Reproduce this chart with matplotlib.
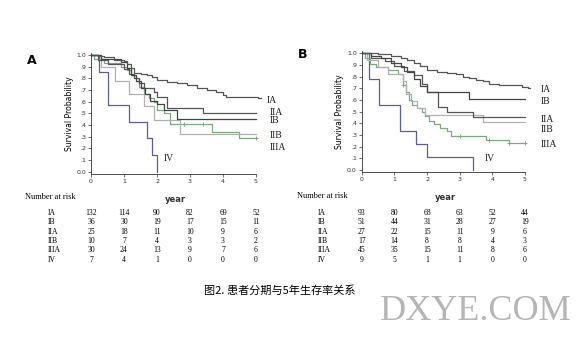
import numpy as np
import matplotlib
matplotlib.use("Agg")
import matplotlib.pyplot as plt
import matplotlib.transforms as mtransforms

plt.rcParams['font.family'] = ['DejaVu Sans']

stages = ["IA", "IB", "IIA", "IIB", "IIIA", "IV"]
years = [0, 1, 2, 3, 4, 5]

# ---- panel A survival steps (time in years, survival probability) ----
a_t = {
    "IA":   [0, 0.2, 0.4, 0.7, 1.0, 1.1, 1.2, 1.3, 1.5, 1.7, 1.85, 2.0, 2.3, 2.6, 2.9, 3.2, 3.5, 3.8, 4.0, 4.1, 5.05, 5.15],
    "IB":   [0, 0.3, 0.9, 1.1, 1.2, 1.35, 1.5, 1.65, 1.8, 2.0, 2.2, 2.6, 5.0],
    "IIA":  [0, 0.2, 0.5, 1.0, 1.15, 1.3, 1.45, 1.6, 1.9, 2.0, 2.3, 3.4, 5.0],
    "IIB":  [0, 0.3, 0.74, 1.16, 1.6, 1.9, 2.7, 5.0],
    "IIIA": [0, 0.1, 0.4, 0.9, 1.1, 1.2, 1.3, 1.45, 1.6, 1.75, 1.9, 2.0, 2.2, 2.4, 3.67, 4.48, 5.0],
    "IV":   [0, 0.25, 0.5, 1.15, 1.7, 1.85, 2.0],
}
a_s = {
    "IA":   [1.0, 0.99, 0.98, 0.96, 0.95, 0.92, 0.89, 0.85, 0.84, 0.83, 0.81, 0.79, 0.77, 0.76, 0.74, 0.72, 0.70, 0.68, 0.66, 0.64, 0.63, 0.63],
    "IB":   [1.0, 0.97, 0.94, 0.89, 0.83, 0.78, 0.72, 0.67, 0.61, 0.58, 0.53, 0.45, 0.45],
    "IIA":  [1.0, 0.96, 0.92, 0.88, 0.84, 0.80, 0.76, 0.72, 0.68, 0.64, 0.55, 0.50, 0.50],
    "IIB":  [1.0, 0.90, 0.78, 0.67, 0.56, 0.44, 0.32, 0.32],
    "IIIA": [1.0, 0.97, 0.93, 0.90, 0.87, 0.83, 0.80, 0.73, 0.67, 0.63, 0.60, 0.53, 0.50, 0.41, 0.34, 0.29, 0.29],
    "IV":   [1.0, 0.857, 0.571, 0.429, 0.286, 0.143, 0.0],
}
a_censor_t = [2.82, 3.4, 5.0]
a_censor_s = [0.41, 0.41, 0.29]

# ---- panel B survival steps ----
b_t = {
    "IA":   [0, 0.5, 0.9, 1.2, 1.4, 1.6, 1.8, 2.0, 2.3, 2.6, 2.9, 3.1, 3.3, 3.5, 3.7, 3.9, 4.2, 4.9, 5.1, 5.15],
    "IB":   [0, 0.3, 0.6, 0.9, 1.2, 1.4, 1.6, 1.8, 2.0, 3.3, 5.0],
    "IIA":  [0, 0.3, 0.7, 1.0, 1.3, 1.6, 1.85, 2.0, 2.35, 2.6, 3.4, 5.0],
    "IIB":  [0, 0.15, 0.5, 0.8, 1.25, 1.35, 1.5, 1.7, 1.95, 3.7, 5.0],
    "IIIA": [0, 0.1, 0.25, 0.45, 0.8, 1.1, 1.25, 1.35, 1.45, 1.55, 1.7, 1.85, 1.95, 2.05, 2.2, 2.4, 2.6, 2.75, 3.8, 4.5, 5.0],
    "IV":   [0, 0.22, 0.54, 1.17, 1.66, 2.01, 3.42],
}
b_s = {
    "IA":   [1.0, 0.99, 0.98, 0.96, 0.94, 0.92, 0.89, 0.86, 0.84, 0.83, 0.82, 0.80, 0.79, 0.77, 0.76, 0.74, 0.73, 0.71, 0.70, 0.70],
    "IB":   [1.0, 0.98, 0.96, 0.92, 0.88, 0.84, 0.78, 0.72, 0.67, 0.61, 0.61],
    "IIA":  [1.0, 0.96, 0.93, 0.89, 0.85, 0.81, 0.74, 0.67, 0.54, 0.50, 0.45, 0.45],
    "IIB":  [1.0, 0.94, 0.88, 0.82, 0.76, 0.65, 0.59, 0.53, 0.47, 0.41, 0.41],
    "IIIA": [1.0, 0.96, 0.91, 0.88, 0.86, 0.82, 0.73, 0.67, 0.60, 0.56, 0.53, 0.50, 0.46, 0.42, 0.39, 0.36, 0.33, 0.29, 0.26, 0.23, 0.23],
    "IV":   [1.0, 0.778, 0.556, 0.333, 0.222, 0.111, 0.0],
}
b_censor_t = [1.25, 3.0, 3.9, 4.5, 5.0]
b_censor_s = [0.73, 0.29, 0.26, 0.23, 0.23]

# ---- numbers at risk ----
a_risk = {
    "IA":   [132, 114, 90, 82, 69, 52],
    "IB":   [36, 30, 19, 17, 15, 11],
    "IIA":  [25, 18, 11, 10, 9, 6],
    "IIB":  [10, 7, 4, 3, 3, 2],
    "IIIA": [30, 24, 13, 9, 7, 6],
    "IV":   [7, 4, 1, 0, 0, 0],
}
b_risk = {
    "IA":   [93, 80, 68, 63, 52, 44],
    "IB":   [51, 44, 31, 28, 27, 19],
    "IIA":  [27, 22, 15, 11, 9, 6],
    "IIB":  [17, 14, 8, 8, 4, 3],
    "IIIA": [45, 35, 15, 11, 8, 6],
    "IV":   [9, 5, 1, 1, 0, 0],
}

colors = {"IA": "#555555", "IB": "#444444", "IIA": "#555555",
          "IIB": "#b0b0b0", "IIIA": "#7aab7a", "IV": "#5a5aa8"}

# label positions (data coords)
a_lab = {"IA": (5.32, 0.61), "IIA": (5.4, 0.51), "IB": (5.4, 0.44),
         "IIB": (5.4, 0.31), "IIIA": (5.4, 0.21), "IV": (2.2, 0.11)}
b_lab = {"IA": (5.48, 0.69), "IB": (5.48, 0.59), "IIA": (5.48, 0.43),
         "IIB": (5.48, 0.35), "IIIA": (5.48, 0.22), "IV": (3.78, 0.10)}

W, H = 582, 342
fig = plt.figure(figsize=(W / 100, H / 100), dpi=100)


def px(x, y):
    return x / W, 1 - y / H


def panel(rect, ts, ss, ct, cs, labs, risk, letter, letter_xy,
          nar_xy, year_xy, rowlab_x):
    ax = fig.add_axes(rect)
    for st in ["IV", "IIIA", "IIB", "IIA", "IB", "IA"]:
        ax.step(ts[st], ss[st], where="post", color=colors[st], lw=0.9,
                clip_on=False)
    ax.plot(ct, cs, "+", color=colors["IIIA"], ms=3, mew=0.7, clip_on=False)
    for st, (x, y) in labs.items():
        ax.text(x, y, st, family="Liberation Serif", fontsize=7,
                va="center", ha="left", color="#222222", clip_on=False)
    ax.set_xlim(0, 5.2)
    ax.set_ylim(-0.02, 1.02)
    ax.set_xticks(years)
    ax.set_yticks(np.arange(0, 1.01, 0.1))
    ax.set_yticklabels(["0.0"] + ["." + str(i) for i in range(1, 10)] + ["1.0"])
    ax.spines["top"].set_visible(False)
    ax.spines["right"].set_visible(False)
    ax.spines["bottom"].set_bounds(0, 5)
    for sp in ["left", "bottom"]:
        ax.spines[sp].set_linewidth(0.6)
        ax.spines[sp].set_color("#333333")
    ax.tick_params(labelsize=4.5, length=2, width=0.5, pad=1.5, colors="#333333")
    ax.set_ylabel("Survival Probability", fontsize=5.5, labelpad=2)

    fig.text(*px(*letter_xy), letter, fontsize=9, fontweight="bold",
             ha="center", va="center")

    # number at risk table
    tr = mtransforms.blended_transform_factory(ax.transData, fig.transFigure)
    fig.text(*px(*nar_xy), "Number at risk", family="Liberation Serif",
             fontsize=6, ha="left", va="center")
    fig.text(*px(*year_xy), "year", fontsize=6, ha="center", va="center",
             fontweight="bold", color="#333333")
    row_y = [213, 222, 232, 241, 250, 260]
    for st, yy in zip(stages, row_y):
        fig.text(*px(rowlab_x, yy), st, family="Liberation Serif",
                 fontsize=5.5, ha="left", va="center")
        for yr, n in zip(years, risk[st]):
            ax.text(yr, 1 - yy / H, str(n), transform=tr,
                    family="Liberation Serif", fontsize=5.5,
                    ha="center", va="center")
    return ax


ha = 121.3 / H
panel([91 / W, (H - 174) / H, 171.6 / W, ha], a_t, a_s, a_censor_t, a_censor_s,
      a_lab, a_risk, "A", (32, 60), (25, 197), (175, 200), 48)
panel([361.7 / W, (H - 172.3) / H, 169.8 / W, ha], b_t, b_s, b_censor_t, b_censor_s,
      b_lab, b_risk, "B", (303, 55), (297, 196), (445, 198), 318)

fig.text(*px(280, 290), "图2. 患者分期与5年生存率关系",
         family=["Noto Sans CJK SC", "DejaVu Sans"], fontsize=8,
         ha="center", va="center")
fig.text(*px(476, 312), "DXYE.COM", family="Liberation Serif",
         fontsize=26, ha="center", va="center", color="#b5b5b5")

fig.savefig("out.png", dpi=100)
